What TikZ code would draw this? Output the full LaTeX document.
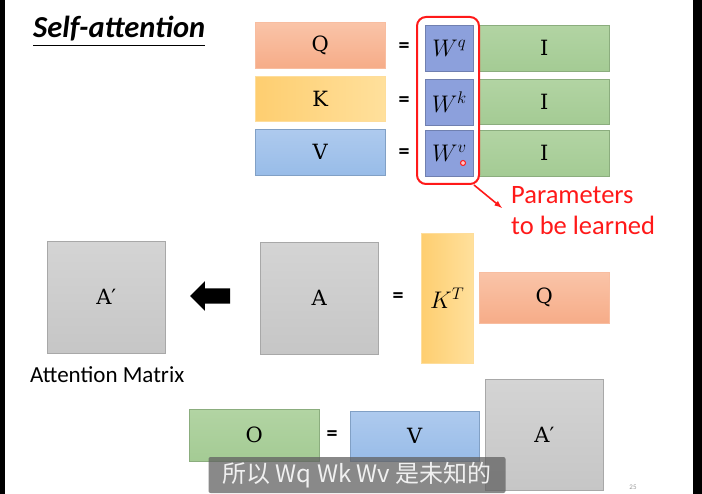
\RequirePackage{fix-cm}
\documentclass[tikz,border=0pt]{standalone}
\usepackage{xcolor}
\usepackage[no-math]{fontspec}
\setmainfont{Carlito}
\newfontfamily\cjk{Noto Sans CJK SC}
\newfontfamily\matfont{DejaVu Serif}
\usetikzlibrary{shapes.arrows}
\definecolor{query}{RGB}{246,172,136}
\definecolor{querytop}{RGB}{250,196,168}
\definecolor{key}{RGB}{255,224,156}
\definecolor{keydark}{RGB}{254,206,112}
\definecolor{value}{RGB}{152,188,232}
\definecolor{valuetop}{RGB}{174,202,238}
\definecolor{weight}{RGB}{140,160,220}
\definecolor{input}{RGB}{164,203,148}
\definecolor{inputtop}{RGB}{178,212,163}
\definecolor{attn}{RGB}{198,198,198}
\definecolor{attntop}{RGB}{212,212,212}
\definecolor{learn}{RGB}{255,25,25}
\tikzstyle{mat}=[inner sep=0, anchor=north west, line width=.6pt, font=\matfont\fontsize{21}{25}\selectfont]
\tikzstyle{eq}=[font=\fontsize{22}{26}\selectfont\bfseries]
\tikzset{sym/.style={font=\fontsize{24}{28}\selectfont}}
\tikzset{qmat/.style={mat, draw=query!80!white, top color=querytop, bottom color=query}}
\tikzset{kmat/.style={mat, draw=keydark!70!white, left color=keydark, right color=key}}
\tikzset{vmat/.style={mat, draw=value!85!black, top color=valuetop, bottom color=value}}
\tikzset{wmat/.style={mat, draw=weight!80!black, fill=weight}}
\tikzset{imat/.style={mat, draw=input!85!black, top color=inputtop, bottom color=input}}
\tikzset{amat/.style={mat, draw=attn!85!black, top color=attntop, bottom color=attn}}

\begin{document}
\begin{tikzpicture}[x=1pt, y=-1pt]
  \useasboundingbox (0,0) rectangle (702,494);
  \fill (0,0) rectangle (5,494);
  \fill (693,0) rectangle (702,494);

  \draw (33,38) node[anchor=base west, inner sep=0, font=\fontsize{30.5}{34}\selectfont\bfseries\itshape] (title) {Self-attention};
  \draw[line width=1pt] ([yshift=-8pt]title.base west) -- ([yshift=-8pt]title.base east);

  %% Q, K, V from I
  \draw (255,22) node[qmat, minimum width=130pt, minimum height=46pt] (Q) {Q};
  \draw (255,76) node[kmat, minimum width=130pt, minimum height=45pt] (K) {K};
  \draw (255,129) node[vmat, minimum width=130pt, minimum height=46pt] (V) {V};

  \draw (404,48) node[eq] (E1) {=};
  \draw (404,102) node[eq] (E2) {=};
  \draw (404,154) node[eq] (E3) {=};

  \draw (425,25) node[wmat, sym, minimum width=48pt, minimum height=46pt] (Wq) {$W^q$};
  \draw (425,79) node[wmat, sym, minimum width=48pt, minimum height=46pt] (Wk) {$W^k$};
  \draw (425,130) node[wmat, sym, minimum width=48pt, minimum height=46pt] (Wv) {$W^v$};

  \draw (479,25) node[imat, minimum width=130pt, minimum height=46pt] (I1) {I};
  \draw (479,79) node[imat, minimum width=130pt, minimum height=45pt] (I2) {I};
  \draw (479,130) node[imat, minimum width=130pt, minimum height=46pt] (I3) {I};

  \draw (463,163) node[circle, draw=learn, fill=learn!25, line width=1pt, inner sep=0, minimum size=5pt] (cursor) {};

  %% Parameters
  \draw (416,16) node[anchor=north west, draw=learn, line width=2pt, rounded corners=9pt, minimum width=62pt, minimum height=167pt] (W) {};
  \draw (511,186) node[anchor=north west, inner sep=0, align=left, text=learn, font=\fontsize{26.5}{31}\selectfont] (param) {Parameters\\to be learned};
  \coordinate (ptip) at (502,208);
  \draw[-latex, learn, line width=1.6pt] ([xshift=-6pt]W.south east) -- (ptip);

  %% Attention
  \draw (47,241) node[amat, minimum width=118pt, minimum height=112pt] (Ap) {A′};
  \draw (30,383) node[anchor=base west, inner sep=0, font=\fontsize{23}{27}\selectfont] (cap) {Attention Matrix};
  \draw (214,296) node[single arrow, fill=black, shape border rotate=180, inner xsep=0, inner ysep=7.5pt, minimum height=40pt, minimum width=27pt] (back) {};
  \draw (260,242) node[amat, minimum width=118pt, minimum height=112pt] (A) {A};
  \draw (398,298) node[eq] (E4) {=};
  \draw (421,233) node[kmat, sym, minimum width=52pt, minimum height=130pt] (KT) {$K^T$};
  \draw (479,272) node[qmat, minimum width=130pt, minimum height=51pt] (Q2) {Q};

  %% Output
  \draw (189,409) node[imat, minimum width=130pt, minimum height=52pt] (O) {O};
  \draw (332,436) node[eq] (E5) {=};
  \draw (350,411) node[vmat, minimum width=129pt, minimum height=50pt] (V2) {V};
  \draw (485,379) node[amat, minimum width=118pt, minimum height=111pt] (Ap2) {A′};

  %% Subtitle
  \draw (357,475) node[fill=black!62, fill opacity=.75, text opacity=1, text=black!6, rounded corners=2pt, minimum width=297pt, minimum height=36pt, font=\cjk\fontsize{24}{28}\selectfont] (sub) {所以 Wq Wk Wv 是未知的};
  \draw (633,487) node[text=black!40, font=\scriptsize] (page) {25};
\end{tikzpicture}
\end{document}
